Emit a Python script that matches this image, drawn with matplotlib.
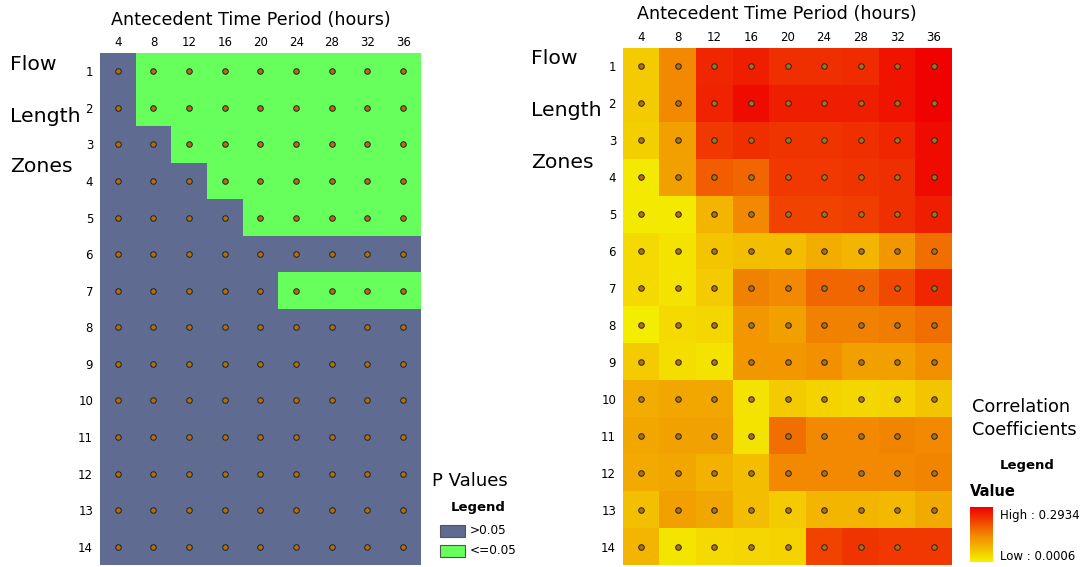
import numpy as np
import matplotlib
matplotlib.use('Agg')
import matplotlib.pyplot as plt
from matplotlib.colors import ListedColormap, LinearSegmentedColormap
from matplotlib.patches import Rectangle

# -------------------------------------------------
# data
# -------------------------------------------------
hours = [4, 8, 12, 16, 20, 24, 28, 32, 36]
zones = list(range(1, 15))

# 1 = p <= 0.05, 0 = p > 0.05
p_significant = [
    [0, 1, 1, 1, 1, 1, 1, 1, 1],
    [0, 1, 1, 1, 1, 1, 1, 1, 1],
    [0, 0, 1, 1, 1, 1, 1, 1, 1],
    [0, 0, 0, 1, 1, 1, 1, 1, 1],
    [0, 0, 0, 0, 1, 1, 1, 1, 1],
    [0, 0, 0, 0, 0, 0, 0, 0, 0],
    [0, 0, 0, 0, 0, 1, 1, 1, 1],
    [0, 0, 0, 0, 0, 0, 0, 0, 0],
    [0, 0, 0, 0, 0, 0, 0, 0, 0],
    [0, 0, 0, 0, 0, 0, 0, 0, 0],
    [0, 0, 0, 0, 0, 0, 0, 0, 0],
    [0, 0, 0, 0, 0, 0, 0, 0, 0],
    [0, 0, 0, 0, 0, 0, 0, 0, 0],
    [0, 0, 0, 0, 0, 0, 0, 0, 0],
]

# correlation coefficients (estimated from colours)
corr = [
    [0.050, 0.140, 0.250, 0.260, 0.240, 0.240, 0.245, 0.270, 0.290],
    [0.050, 0.140, 0.255, 0.280, 0.260, 0.260, 0.260, 0.270, 0.290],
    [0.045, 0.110, 0.230, 0.240, 0.235, 0.235, 0.240, 0.250, 0.280],
    [0.010, 0.110, 0.190, 0.180, 0.230, 0.230, 0.235, 0.240, 0.280],
    [0.010, 0.010, 0.080, 0.140, 0.220, 0.220, 0.225, 0.240, 0.260],
    [0.030, 0.020, 0.060, 0.070, 0.070, 0.090, 0.080, 0.120, 0.170],
    [0.030, 0.020, 0.050, 0.150, 0.140, 0.180, 0.180, 0.210, 0.250],
    [0.005, 0.030, 0.035, 0.120, 0.110, 0.150, 0.150, 0.155, 0.170],
    [0.050, 0.025, 0.020, 0.120, 0.120, 0.130, 0.110, 0.110, 0.130],
    [0.090, 0.100, 0.100, 0.020, 0.050, 0.040, 0.035, 0.040, 0.060],
    [0.100, 0.105, 0.105, 0.020, 0.170, 0.140, 0.140, 0.145, 0.140],
    [0.095, 0.100, 0.085, 0.070, 0.140, 0.140, 0.140, 0.140, 0.145],
    [0.065, 0.110, 0.100, 0.070, 0.050, 0.080, 0.080, 0.075, 0.095],
    [0.080, 0.015, 0.030, 0.035, 0.040, 0.220, 0.235, 0.230, 0.230],
]
corr_low, corr_high = 0.0006, 0.2934

# -------------------------------------------------
# styling
# -------------------------------------------------
W, H = 1089, 567
grey_blue = '#5f6b90'
green = '#66ff5c'
dot_color = '#b06e0e'
p_cmap = ListedColormap([grey_blue, green])
c_cmap = LinearSegmentedColormap.from_list('yr', ['#f5f000', '#f28400', '#f00000'])

plt.rcParams['font.family'] = ['DejaVu Sans']

fig = plt.figure(figsize=(W / 100, H / 100), dpi=100)


def fx(px):
    return px / W


def fy(py):
    return 1 - py / H


def grid_axes(x0, x1, y0, y1):
    ax = fig.add_axes([fx(x0), fy(y1), fx(x1) - fx(x0), fy(y0) - fy(y1)])
    return ax


def dress(ax):
    ax.set_xticks(range(len(hours)))
    ax.set_xticklabels(hours, fontsize=8.5)
    ax.set_yticks(range(len(zones)))
    ax.set_yticklabels(zones, fontsize=8.5)
    ax.xaxis.tick_top()
    ax.tick_params(length=0, pad=3)
    ax.tick_params(axis='y', pad=5)
    for s in ax.spines.values():
        s.set_visible(False)
    xx, yy = np.meshgrid(range(len(hours)), range(len(zones)))
    ax.scatter(xx.ravel(), yy.ravel(), s=16, c=dot_color,
               edgecolors='#222222', linewidths=0.7, zorder=3)
    ax.set_xlim(-0.5, len(hours) - 0.5)
    ax.set_ylim(len(zones) - 0.5, -0.5)


# left panel: p values
ax1 = grid_axes(100, 421, 53, 565)
ax1.imshow(np.array(p_significant), cmap=p_cmap, vmin=0, vmax=1,
           aspect='auto', interpolation='nearest')
dress(ax1)

# right panel: correlation coefficients
ax2 = grid_axes(623, 952, 48, 565)
ax2.imshow(np.array(corr), cmap=c_cmap, vmin=corr_low, vmax=corr_high,
           aspect='auto', interpolation='nearest')
dress(ax2)

# titles and side labels
fig.text(fx(251), fy(20), 'Antecedent Time Period (hours)', fontsize=12.6,
         ha='center', va='center')
fig.text(fx(777), fy(14), 'Antecedent Time Period (hours)', fontsize=12.6,
         ha='center', va='center')
for label, y in [('Flow', 65), ('Length', 116), ('Zones', 167)]:
    fig.text(fx(10), fy(y), label, fontsize=14.7, ha='left', va='center')
for label, y in [('Flow', 59), ('Length', 111), ('Zones', 163)]:
    fig.text(fx(531), fy(y), label, fontsize=14.7, ha='left', va='center')

# left legend
fig.text(fx(432), fy(481), 'P Values', fontsize=13, ha='left', va='center')
fig.text(fx(451), fy(507), 'Legend', fontsize=9.5, fontweight='bold', ha='left', va='center')
for (lab, col), y in zip([('>0.05', grey_blue), ('<=0.05', green)], [531, 551]):
    fig.patches.append(Rectangle((fx(440), fy(y + 6)), fx(25), fy(0) - fy(12),
                                 transform=fig.transFigure, facecolor=col,
                                 edgecolor='#555555', linewidth=0.8))
    fig.text(fx(470), fy(y), lab, fontsize=8.7, ha='left', va='center')

# right legend
fig.text(fx(972), fy(407), 'Correlation', fontsize=12.8, ha='left', va='center')
fig.text(fx(972), fy(430), 'Coefficients', fontsize=12.8, ha='left', va='center')
fig.text(fx(1000), fy(465), 'Legend', fontsize=9.5, fontweight='bold', ha='left', va='center')
fig.text(fx(970), fy(492), 'Value', fontsize=10.5, fontweight='bold', ha='left', va='center')
cax = fig.add_axes([fx(970), fy(562), fx(23), fy(507) - fy(562)])
cax.imshow(np.linspace(1, 0, 100).reshape(-1, 1), cmap=c_cmap, aspect='auto')
cax.set_axis_off()
fig.text(fx(1000), fy(515), f'High : {corr_high:.4f}', fontsize=8.5, ha='left', va='center')
fig.text(fx(1000), fy(556), f'Low : {corr_low:.4f}', fontsize=8.5, ha='left', va='center')

fig.savefig('out.png', dpi=100)
